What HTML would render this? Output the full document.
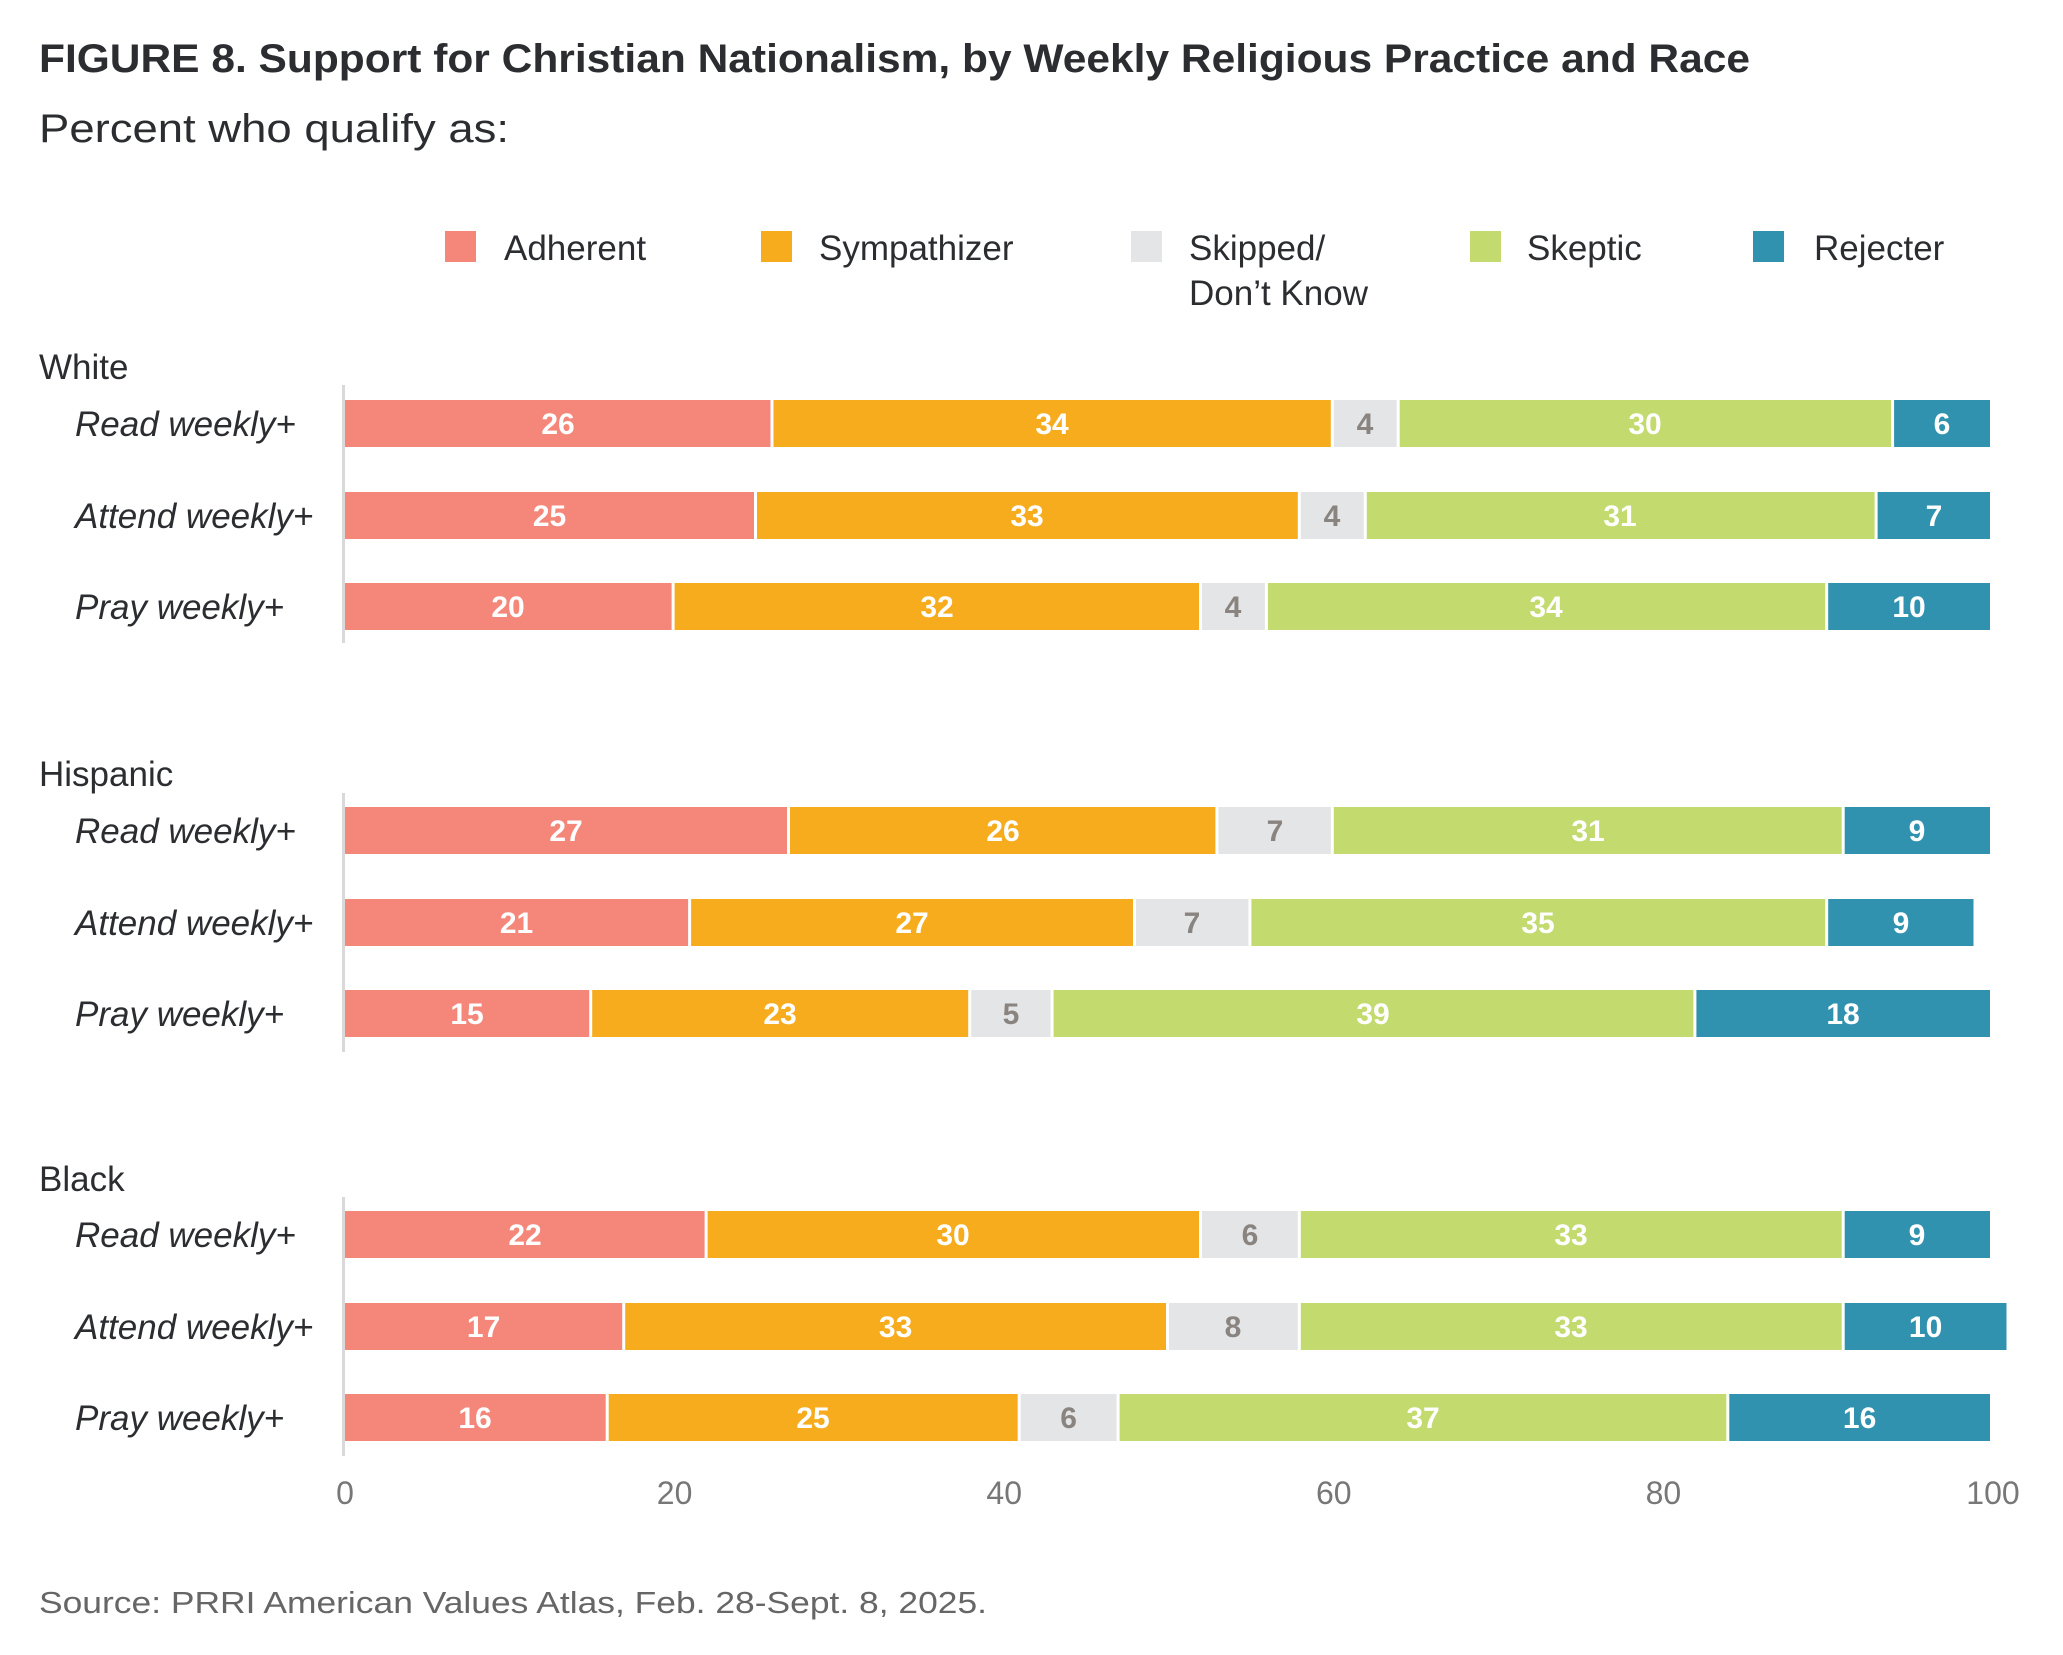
<!DOCTYPE html>
<html><head><meta charset="utf-8"><style>
html,body{margin:0;padding:0;background:#fff;}
svg{display:block;}
text{font-family:"Liberation Sans",sans-serif;}
.lab{font-size:30px;font-weight:bold;fill:#fff;text-anchor:middle;}
.g{fill:#8a8480;}
.row{font-size:35px;font-style:italic;fill:#2b2d30;}
.grp{font-size:35px;fill:#2b2d30;}
.tick{font-size:32px;fill:#777;text-anchor:middle;}
.leg{font-size:35px;fill:#2b2d30;}
</style></head><body>
<svg width="2063" height="1655" viewBox="0 0 2063 1655" xmlns="http://www.w3.org/2000/svg">
<rect width="2063" height="1655" fill="#fff"/>
<text x="39" y="72" font-size="40" font-weight="bold" fill="#2b2d30" textLength="1711" lengthAdjust="spacingAndGlyphs">FIGURE 8. Support for Christian Nationalism, by Weekly Religious Practice and Race</text>
<text x="39" y="142" font-size="40" fill="#2b2d30" textLength="470" lengthAdjust="spacingAndGlyphs">Percent who qualify as:</text>

<rect x="445" y="231" width="31" height="31" fill="#F4877A"/><text class="leg" x="504" y="260">Adherent</text>
<rect x="761" y="231" width="31" height="31" fill="#F7AC1E"/><text class="leg" x="819" y="260">Sympathizer</text>
<rect x="1131" y="231" width="31" height="31" fill="#E4E5E6"/><text class="leg" x="1189" y="260">Skipped/</text><text class="leg" x="1189" y="305">Don’t Know</text>
<rect x="1470" y="231" width="31" height="31" fill="#C2DA6E"/><text class="leg" x="1527" y="260">Skeptic</text>
<rect x="1753" y="231" width="31" height="31" fill="#3192B0"/><text class="leg" x="1814" y="260">Rejecter</text>

<text class="grp" x="39" y="379">White</text>
<text class="grp" x="39" y="786">Hispanic</text>
<text class="grp" x="39" y="1191">Black</text>

<rect x="342" y="385" width="3" height="258" fill="#d9d9d9"/>
<rect x="342" y="793" width="3" height="259" fill="#d9d9d9"/>
<rect x="342" y="1197" width="3" height="259" fill="#d9d9d9"/>

<text class="row" x="75" y="436">Read weekly+</text>
<text class="row" x="75" y="528">Attend weekly+</text>
<text class="row" x="75" y="619">Pray weekly+</text>
<text class="row" x="75" y="843">Read weekly+</text>
<text class="row" x="75" y="935">Attend weekly+</text>
<text class="row" x="75" y="1026">Pray weekly+</text>
<text class="row" x="75" y="1247">Read weekly+</text>
<text class="row" x="75" y="1339">Attend weekly+</text>
<text class="row" x="75" y="1430">Pray weekly+</text>

<g transform="translate(0,400)">
<rect x="345" width="425.5" height="47" fill="#F4877A"/><text class="lab" x="558" y="34">26</text>
<rect x="773.5" width="557.3" height="47" fill="#F7AC1E"/><text class="lab" x="1052" y="34">34</text>
<rect x="1333.8" width="62.9" height="47" fill="#E4E5E6"/><text class="lab g" x="1365" y="34">4</text>
<rect x="1399.7" width="491.4" height="47" fill="#C2DA6E"/><text class="lab" x="1645" y="34">30</text>
<rect x="1894.1" width="95.9" height="47" fill="#3192B0"/><text class="lab" x="1942" y="34">6</text>
</g>
<g transform="translate(0,492)">
<rect x="345" width="409" height="47" fill="#F4877A"/><text class="lab" x="549.5" y="34">25</text>
<rect x="757" width="540.8" height="47" fill="#F7AC1E"/><text class="lab" x="1027" y="34">33</text>
<rect x="1300.8" width="63" height="47" fill="#E4E5E6"/><text class="lab g" x="1332" y="34">4</text>
<rect x="1366.8" width="507.8" height="47" fill="#C2DA6E"/><text class="lab" x="1620" y="34">31</text>
<rect x="1877.6" width="112.4" height="47" fill="#3192B0"/><text class="lab" x="1934" y="34">7</text>
</g>
<g transform="translate(0,583)">
<rect x="345" width="326.6" height="47" fill="#F4877A"/><text class="lab" x="508" y="34">20</text>
<rect x="674.6" width="524.4" height="47" fill="#F7AC1E"/><text class="lab" x="937" y="34">32</text>
<rect x="1202" width="62.9" height="47" fill="#E4E5E6"/><text class="lab g" x="1233" y="34">4</text>
<rect x="1267.9" width="557.3" height="47" fill="#C2DA6E"/><text class="lab" x="1546" y="34">34</text>
<rect x="1828.2" width="161.8" height="47" fill="#3192B0"/><text class="lab" x="1909" y="34">10</text>
</g>
<g transform="translate(0,807)">
<rect x="345" width="442" height="47" fill="#F4877A"/><text class="lab" x="566" y="34">27</text>
<rect x="790" width="425.4" height="47" fill="#F7AC1E"/><text class="lab" x="1003" y="34">26</text>
<rect x="1218.4" width="112.4" height="47" fill="#E4E5E6"/><text class="lab g" x="1275" y="34">7</text>
<rect x="1333.8" width="507.9" height="47" fill="#C2DA6E"/><text class="lab" x="1588" y="34">31</text>
<rect x="1844.7" width="145.3" height="47" fill="#3192B0"/><text class="lab" x="1917" y="34">9</text>
</g>
<g transform="translate(0,899)">
<rect x="345" width="343.1" height="47" fill="#F4877A"/><text class="lab" x="516.5" y="34">21</text>
<rect x="691.1" width="441.9" height="47" fill="#F7AC1E"/><text class="lab" x="912" y="34">27</text>
<rect x="1136" width="112.4" height="47" fill="#E4E5E6"/><text class="lab g" x="1192" y="34">7</text>
<rect x="1251.4" width="573.8" height="47" fill="#C2DA6E"/><text class="lab" x="1538" y="34">35</text>
<rect x="1828.2" width="145.3" height="47" fill="#3192B0"/><text class="lab" x="1901" y="34">9</text>
</g>
<g transform="translate(0,990)">
<rect x="345" width="244.2" height="47" fill="#F4877A"/><text class="lab" x="467" y="34">15</text>
<rect x="592.2" width="376" height="47" fill="#F7AC1E"/><text class="lab" x="780" y="34">23</text>
<rect x="971.2" width="79.4" height="47" fill="#E4E5E6"/><text class="lab g" x="1011" y="34">5</text>
<rect x="1053.6" width="639.8" height="47" fill="#C2DA6E"/><text class="lab" x="1373" y="34">39</text>
<rect x="1696.4" width="293.6" height="47" fill="#3192B0"/><text class="lab" x="1843" y="34">18</text>
</g>
<g transform="translate(0,1211)">
<rect x="345" width="359.6" height="47" fill="#F4877A"/><text class="lab" x="525" y="34">22</text>
<rect x="707.6" width="491.4" height="47" fill="#F7AC1E"/><text class="lab" x="953" y="34">30</text>
<rect x="1202" width="95.8" height="47" fill="#E4E5E6"/><text class="lab g" x="1250" y="34">6</text>
<rect x="1300.8" width="540.9" height="47" fill="#C2DA6E"/><text class="lab" x="1571" y="34">33</text>
<rect x="1844.7" width="145.3" height="47" fill="#3192B0"/><text class="lab" x="1917" y="34">9</text>
</g>
<g transform="translate(0,1303)">
<rect x="345" width="277.2" height="47" fill="#F4877A"/><text class="lab" x="483.6" y="34">17</text>
<rect x="625.2" width="540.8" height="47" fill="#F7AC1E"/><text class="lab" x="895.6" y="34">33</text>
<rect x="1169" width="128.8" height="47" fill="#E4E5E6"/><text class="lab g" x="1233" y="34">8</text>
<rect x="1300.8" width="540.9" height="47" fill="#C2DA6E"/><text class="lab" x="1571" y="34">33</text>
<rect x="1844.7" width="161.8" height="47" fill="#3192B0"/><text class="lab" x="1925.6" y="34">10</text>
</g>
<g transform="translate(0,1394)">
<rect x="345" width="260.7" height="47" fill="#F4877A"/><text class="lab" x="475" y="34">16</text>
<rect x="608.7" width="409" height="47" fill="#F7AC1E"/><text class="lab" x="813" y="34">25</text>
<rect x="1020.7" width="95.9" height="47" fill="#E4E5E6"/><text class="lab g" x="1068.6" y="34">6</text>
<rect x="1119.6" width="606.7" height="47" fill="#C2DA6E"/><text class="lab" x="1423" y="34">37</text>
<rect x="1729.3" width="260.7" height="47" fill="#3192B0"/><text class="lab" x="1859.6" y="34">16</text>
</g>

<text class="tick" x="345" y="1504">0</text>
<text class="tick" x="674.6" y="1504">20</text>
<text class="tick" x="1004.2" y="1504">40</text>
<text class="tick" x="1333.8" y="1504">60</text>
<text class="tick" x="1663.4" y="1504">80</text>
<text class="tick" x="1993" y="1504">100</text>

<text x="39" y="1613" font-size="31" fill="#666" textLength="948" lengthAdjust="spacingAndGlyphs">Source: PRRI American Values Atlas, Feb. 28-Sept. 8, 2025.</text>
</svg>
</body></html>
